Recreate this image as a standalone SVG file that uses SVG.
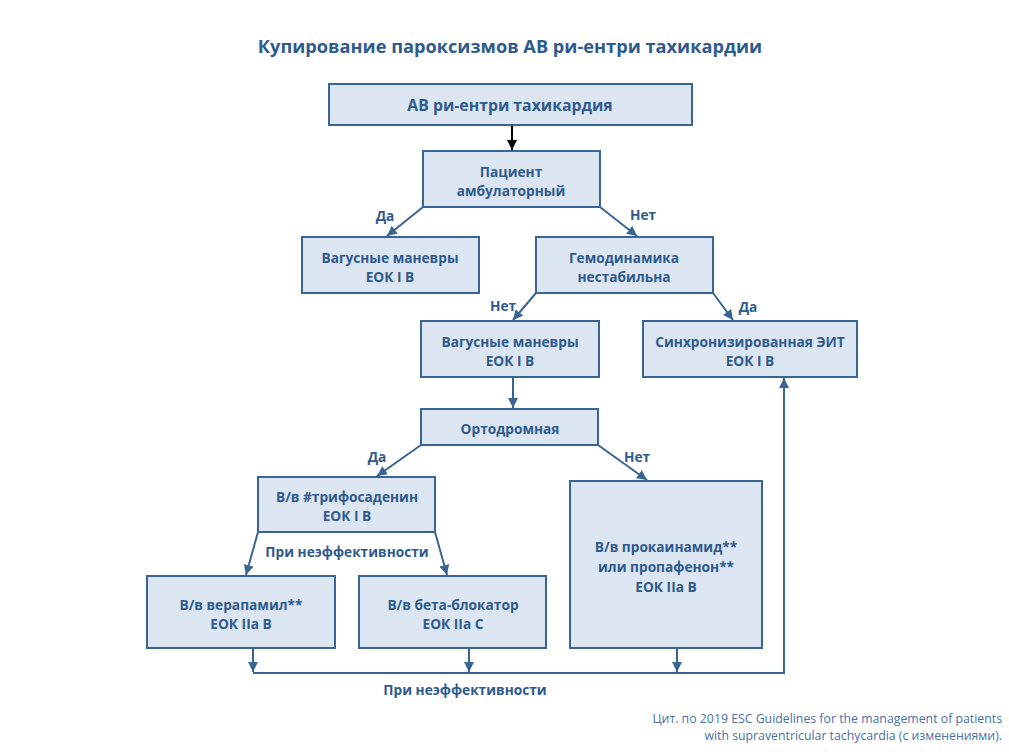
<svg xmlns="http://www.w3.org/2000/svg" width="1009" height="755" viewBox="0 0 1009 755">
<style>
.box{fill:#DCE6F2;stroke:#3A6494;stroke-width:2}
.t{font-family:"Open Sans","Liberation Sans",sans-serif;font-weight:bold;font-size:13.7px;fill:#2F5A8C;text-anchor:middle;dominant-baseline:central}
.lbl{font-family:"Open Sans","Liberation Sans",sans-serif;font-weight:bold;font-size:13.7px;fill:#2F5A8C;text-anchor:middle;dominant-baseline:central}
.title{font-family:"Open Sans","Liberation Sans",sans-serif;font-weight:bold;font-size:18.2px;fill:#2F5A8C;text-anchor:middle}
.foot{font-family:"Open Sans","Liberation Sans",sans-serif;font-size:12.3px;fill:#4A6FA5;text-anchor:end}
.c{fill:none;stroke:#3A6494;stroke-width:2}
</style>
<defs>
<marker id="ah" viewBox="0 0 10 10" refX="10" refY="5" markerWidth="5" markerHeight="5" orient="auto" markerUnits="strokeWidth">
<path d="M0,0 L10,5 L0,10 z" fill="#3A6494"/>
</marker>
<marker id="ahk" viewBox="0 0 10 10" refX="10" refY="5" markerWidth="5" markerHeight="5" orient="auto" markerUnits="strokeWidth">
<path d="M0,0 L10,5 L0,10 z" fill="#000"/>
</marker>
</defs>
<rect width="1009" height="755" fill="#fff"/>
<text class="title" x="510" y="53">Купирование пароксизмов АВ ри-ентри тахикардии</text>

<g id="connectors">
<line x1="512" y1="125" x2="512" y2="150" stroke="#000" stroke-width="2" marker-end="url(#ahk)"/>
<line class="c" x1="423" y1="207" x2="387" y2="236" marker-end="url(#ah)"/>
<line class="c" x1="600" y1="207" x2="637" y2="236" marker-end="url(#ah)"/>
<line class="c" x1="536" y1="293" x2="513" y2="320" marker-end="url(#ah)"/>
<line class="c" x1="713" y1="293" x2="733" y2="320" marker-end="url(#ah)"/>
<line class="c" x1="513" y1="377" x2="513" y2="408" marker-end="url(#ah)"/>
<line class="c" x1="421" y1="445" x2="377" y2="476" marker-end="url(#ah)"/>
<line class="c" x1="598" y1="445" x2="647" y2="480" marker-end="url(#ah)"/>
<line class="c" x1="258" y1="532" x2="246" y2="575" marker-end="url(#ah)"/>
<line class="c" x1="435" y1="532" x2="447" y2="575" marker-end="url(#ah)"/>
<line class="c" x1="253" y1="648" x2="253" y2="672" marker-end="url(#ah)"/>
<line class="c" x1="469" y1="648" x2="469" y2="672" marker-end="url(#ah)"/>
<line class="c" x1="677" y1="648" x2="677" y2="672" marker-end="url(#ah)"/>
<polyline class="c" points="253,673 784,673 784,378" marker-end="url(#ah)"/>
<text class="lbl" x="385" y="215">Да</text>
<text class="lbl" x="643" y="214">Нет</text>
<text class="lbl" x="503" y="305">Нет</text>
<text class="lbl" x="748" y="306">Да</text>
<text class="lbl" x="377" y="456">Да</text>
<text class="lbl" x="637" y="456">Нет</text>
<text class="lbl" x="347" y="551">При неэффективности</text>
<text class="lbl" x="465" y="689">При неэффективности</text>
</g>

<g id="n1"><rect class="box" x="329" y="84" width="363" height="41"/><text class="t" x="510" y="105" style="font-size:15.8px">АВ ри-ентри тахикардия</text></g>
<g id="n2"><rect class="box" x="423" y="151" width="177" height="56"/><text class="t" x="511" y="171">Пациент</text><text class="t" x="511" y="190">амбулаторный</text></g>
<g id="n3"><rect class="box" x="302" y="237" width="177" height="56"/><text class="t" x="390" y="257">Вагусные маневры</text><text class="t" x="390" y="276">ЕОК I B</text></g>
<g id="n4"><rect class="box" x="536" y="237" width="177" height="56"/><text class="t" x="624" y="257">Гемодинамика</text><text class="t" x="624" y="276">нестабильна</text></g>
<g id="n5"><rect class="box" x="421" y="321" width="178" height="56"/><text class="t" x="510" y="341">Вагусные маневры</text><text class="t" x="510" y="360">ЕОК I B</text></g>
<g id="n6"><rect class="box" x="643" y="321" width="214" height="56"/><text class="t" x="750" y="341">Синхронизированная ЭИТ</text><text class="t" x="750" y="360">ЕОК I B</text></g>
<g id="n7"><rect class="box" x="421" y="409" width="177" height="36"/><text class="t" x="510" y="428">Ортодромная</text></g>
<g id="n8"><rect class="box" x="258" y="477" width="177" height="55"/><text class="t" x="347" y="496">В/в #трифосаденин</text><text class="t" x="347" y="515">ЕОК I B</text></g>
<g id="n9"><rect class="box" x="147" y="576" width="188" height="72"/><text class="t" x="241" y="604">В/в верапамил**</text><text class="t" x="241" y="623">ЕОК IIa B</text></g>
<g id="n10"><rect class="box" x="359" y="576" width="187" height="72"/><text class="t" x="453" y="604">В/в бета-блокатор</text><text class="t" x="453" y="623">ЕОК IIa C</text></g>
<g id="n11"><rect class="box" x="570" y="481" width="192" height="167"/><text class="t" x="666" y="546">В/в прокаинамид**</text><text class="t" x="666" y="566">или пропафенон**</text><text class="t" x="666" y="586">ЕОК IIa B</text></g>

<text class="foot" x="1002" y="723">Цит. по 2019 ESC Guidelines for the management of patients</text>
<text class="foot" x="1002" y="740">with supraventricular tachycardia (с изменениями).</text>
</svg>
